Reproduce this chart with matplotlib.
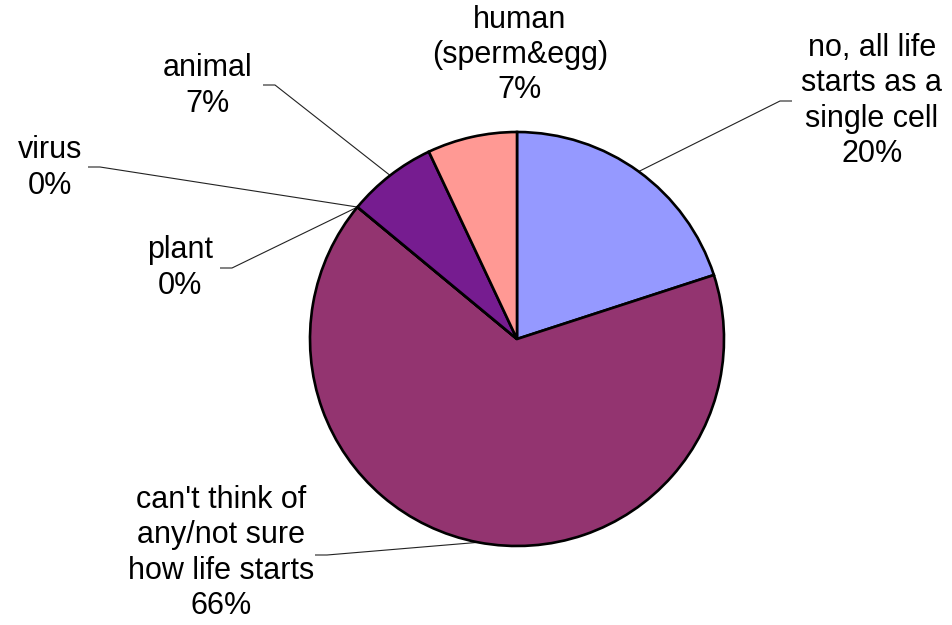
import matplotlib.pyplot as plt
import numpy as np

plt.rcParams['font.family'] = ['Liberation Sans', 'DejaVu Sans']

labels = ["no, all life\nstarts as a\nsingle cell", "can't think of\nany/not sure\nhow life starts",
          "plant", "virus", "animal", "human\n(sperm&egg)"]
values = [20, 66, 0, 0, 7, 7]
colors = ["#9599FF", "#933470", "#7A2290", "#7A2290", "#761C90", "#FF9994"]

# text centre and leader elbow (pixels), elbow=None -> no leader
text_pos = [(872, 101), (221, 553), (180, 268), (50, 168), (208, 86), (520, 55)]
elbows = [(780, 101), (327, 555), (232, 268), (100, 167), (275, 85), None]
tails = [12, -12, -12, -12, -12, 0]

W, H = 953, 625
fig = plt.figure(figsize=(W / 100, H / 100), dpi=100)
ax = fig.add_axes([0, 0, 1, 1])

cx, cy, r = 517, H - 339, 207
wedges, _ = ax.pie(values, colors=colors, startangle=90, counterclock=False,
                   center=(cx, cy), radius=r, frame=True,
                   wedgeprops=dict(edgecolor='black', linewidth=1.9))
ax.set_xlim(0, W)
ax.set_ylim(0, H)
ax.set_aspect('equal')
ax.axis('off')

for w, lab, v, tp, el, tl in zip(wedges, labels, values, text_pos, elbows, tails):
    ax.text(tp[0], H - tp[1], f"{lab}\n{v}%", ha='center', va='center',
            fontsize=22, linespacing=1.22, color='black')
    if el is None:
        continue
    ang = np.deg2rad((w.theta1 + w.theta2) / 2)
    ax_, ay_ = cx + r * np.cos(ang), cy + r * np.sin(ang)
    ex, ey = el[0], H - el[1]
    ax.plot([ax_, ex, ex + tl], [ay_, ey, ey], color='#222222', lw=0.8,
            solid_capstyle='butt', zorder=0.5)

fig.savefig("out.png", dpi=100)
